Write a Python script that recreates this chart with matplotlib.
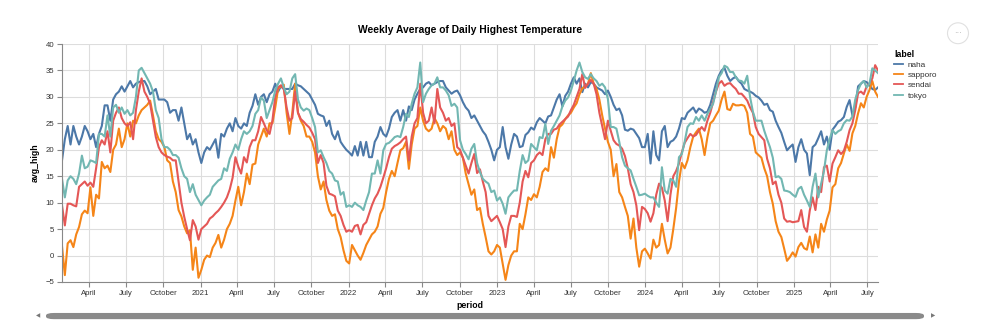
import matplotlib
matplotlib.use("Agg")
import matplotlib.pyplot as plt
import matplotlib.dates as mdates
from matplotlib.patches import FancyBboxPatch, Ellipse
from matplotlib.lines import Line2D
import pandas as pd

# weekly periods, 2020-01-26 .. 2025-07-27
periods = pd.date_range("2020-01-26", periods=288, freq="7D")

labels = ["naha", "sapporo", "sendai", "tokyo"]
colors = ["#4c78a8", "#f58518", "#e45756", "#72b7b2"]

naha = [
    18, 22, 24.5, 21, 24.5, 22.5, 21, 22.5, 24.5, 23.5, 22, 23, 20.5, 23, 24.5, 28.4, 28.4, 25.5, 29.5, 30.5,
    31, 32, 31, 32, 33, 31.8, 32.5, 32.8, 33, 33, 32, 30.5, 31, 31.5, 29.5, 29.5, 29.5, 29, 27, 27.5,
    27.5, 25.5, 28, 25, 22, 23, 21, 22, 19.5,
    17.5, 19.5, 20.5, 20, 21, 22, 18.5, 23, 22.5, 24, 25, 23.5, 26, 24.5, 24, 25, 24.5, 27, 28.3, 30.5,
    28.5, 30, 30.5, 29, 30.5, 31, 32.5, 31, 32, 31.5, 31.5, 31.5, 31.5, 32.5, 32.2, 32, 31.5, 31, 30.5, 29.5,
    28.5, 26.8, 26.5, 26.3, 24.5, 25.5, 23, 22,
    23.5, 21.5, 20.7, 20, 19.5, 18.9, 20.7, 18.9, 21.5, 18.9, 21.5, 18.6, 18.6, 21.5, 22.5, 24.3, 23, 22.5, 24, 26.2,
    27, 27.5, 25.5, 27.5, 25.5, 28.2, 27.5, 29.5, 30.6, 31.5, 31.8, 32.5, 32.8, 32.2, 32.5, 32.8, 33, 33, 31.8, 31.2,
    30.6, 31, 31.2, 30.3, 29, 28, 27.4,
    26, 26.5, 25.5, 24.5, 23.5, 22.8, 21.5, 20, 18, 20, 20.5, 24.3, 20.5, 18.3, 21, 23, 22.5, 20.5, 20.7, 22.8,
    23.3, 24.2, 23.8, 25.2, 26, 25.5, 25, 26.3, 26.5, 28, 29.5, 30.5, 28.2, 30.2, 31, 32.5, 33.7, 32.5, 33.5, 30.9,
    32.5, 31.8, 32.8, 32.5, 31.8, 31.5, 31.2, 30.5,
    31.2, 30, 28.5, 27.5, 27.8, 26.5, 23.8, 23.6, 24, 23.8, 23, 22.2, 20.5, 20.5, 23, 17.4, 23.5, 19, 18, 23.5,
    24.5, 20.5, 21.5, 21.8, 22.5, 24, 26, 25.8, 27, 27.5, 28, 27, 27.8, 27.5, 27, 27.2, 28.5, 30.5, 32.5, 34,
    35, 35.5, 34, 33, 33.5, 33.8, 33,
    32.5, 31.5, 31.2, 31, 30.7, 30.2, 29.9, 29.3, 28.5, 28.7, 27.5, 27.2, 25.5, 24.3, 23.2, 21.5, 19.9, 20.5, 21, 17.7,
    20.5, 22, 20, 19.3, 15.2, 20.5, 21, 22.2, 23.5, 21, 22.5,
    20, 23.8, 24.5, 25.3, 25.6, 26.2, 28.1, 29.4, 26.5, 28, 32, 32.5, 33, 32.8, 32.2, 31.5, 31.3, 31.8,
]

sapporo = [
    1.8, -3.7, 2.3, 2.9, 1.6, 4, 5.4, 7.8, 8.5, 8, 12.9, 7.5, 11.5, 10.8, 17.7, 16.5, 17, 15.8, 20, 21,
    24, 20.5, 22, 25, 22.5, 25.5, 25, 26.5, 27.5, 28, 28.5, 29.3, 26.5, 23.5, 22, 21.5, 20.5, 18, 17.5, 14,
    12, 8.6, 7.4, 5.5, 4.2, 4.8, -2.7, 1.5, -4.2,
    -2.7, -0.8, 0, -0.3, 1.5, 2.4, 3.9, 1.5, 3, 5, 6, 7.5, 10.4, 13, 9.5, 12, 15.5, 13.5, 17.2, 17.4,
    21, 22.5, 24, 22.5, 25, 25, 28, 31.5, 32, 32.3, 27, 23, 27, 32.5, 27, 25.5, 24.5, 22.5, 22.5, 21.5,
    19.5, 15, 12.5, 14, 10.5, 8.5, 7.5, 7.8,
    5, 3.5, 1, -1, -1.5, 2, 1, 0, -0.8, 0.5, 2, 3, 4, 4.5, 5.5, 7.9, 9, 12, 14.5, 16,
    15, 17.5, 19.9, 20.3, 21.5, 16.4, 21, 24, 24.5, 28, 25.5, 24, 23.5, 24, 26, 25, 23.5, 24.5, 24, 22,
    23.5, 20, 19, 19.5, 18.5, 15.5, 13.5,
    11.5, 12.5, 8.6, 9, 6, 3.5, 0.8, 0.2, 0.8, 2, 1.5, -1.5, -4.6, -1.8, 0, 0.8, 0.8, 6, 5, 7.8,
    11, 10.5, 11.6, 11, 13, 15.8, 16.5, 16, 20.5, 18.5, 22, 24.3, 24.8, 25.8, 26.5, 27, 28, 28.8, 30.5, 31.6,
    32, 32.5, 34.5, 32.5, 31.5, 29.5, 26.5, 24,
    21.5, 20, 15, 17.3, 12, 11, 9.2, 7.5, 3.2, 7, 1.5, -2.1, 0.8, 1.3, 0.4, -0.6, 3, 1.5, 2, 6,
    3, 0.4, 1.5, 5, 9, 14, 17.5, 16.5, 18, 20.5, 22.5, 23.3, 24, 22, 19, 22.4, 25, 25.5, 26.5, 27.4,
    29.5, 31, 27.7, 27.5, 28.7, 28.4, 28.4,
    28.5, 28.3, 27, 23, 22.5, 19.5, 19, 18.5, 16.5, 15, 12, 9.8, 6.5, 4.5, 3.5, 1.3, -1, -0.3, 0.6, -0.2,
    1.6, 2.4, 1.4, 1.1, 3.6, 0.6, 4, 1.5, 6, 4.5, 6.8, 8.5, 12.9, 13.5,
    16.5, 17.5, 19.3, 21, 19.8, 23.1, 24.5, 26.9, 28.8, 28, 30, 31.3, 33, 31, 30,
]

sendai = [
    9.5, 5.7, 9.8, 9.8, 9.5, 9.3, 13, 13.5, 14, 13.2, 13.8, 13, 16.5, 20.5, 21.8, 21, 23.5, 19.5, 25.5, 27,
    28, 26, 25, 24.5, 25.2, 22, 27.5, 31, 33.5, 31, 30, 28.7, 25.5, 22.4, 20.5, 19.5, 19, 18.7, 18.5, 18,
    18, 14, 10, 7.3, 5, 2.9, 6.7, 5.5, 3,
    5, 5.5, 6, 7, 7.4, 8, 8.5, 9.2, 10, 11, 12.5, 14.7, 18.6, 16.8, 15.5, 18.6, 17.6, 20.5, 21.8, 21.8,
    23.5, 26.2, 25, 23.7, 23, 25.5, 30, 31.8, 32.2, 31.5, 28, 25.5, 26, 31, 27, 25.8, 25.3, 24.7, 24.2, 23.2,
    22, 17.5, 19, 17.5, 13.2, 11.7, 11.5, 11.2,
    8.5, 7.5, 5.8, 4.5, 4.8, 4.5, 5.6, 5.8, 4, 5.8, 6.3, 7.9, 9.5, 10.8, 11.7, 13, 14.7, 16.5, 18.6, 20.2,
    20.7, 21, 21.4, 22, 22.5, 18, 22.5, 25, 26, 32.5, 27, 25, 25.5, 28, 25, 31.5, 28, 27, 25.5, 26,
    24.5, 25, 20.5, 20, 18.5, 17, 15.5,
    17.5, 19.2, 15.6, 16.3, 14, 12, 7.5, 6.5, 7, 7.5, 6.3, 5, 1.6, 5.5, 7.5, 7.5, 7.3, 10, 14, 16,
    14.8, 17.5, 18, 19, 19.5, 19, 22, 23, 23, 23.8, 24, 24.8, 25.3, 25.8, 26.3, 27.5, 28.5, 30, 31.5, 34.3,
    31.7, 32.5, 33.2, 32.5, 30.5, 27, 24.5, 22,
    25.5, 23.6, 21.8, 21.1, 20.8, 20.2, 18.8, 16.5, 13.5, 12, 9.5, 4.8, 9.2, 8.8, 8, 6.4, 8, 11.5, 13.6, 12.8,
    10.4, 6.5, 11.5, 15, 16, 17.4, 19.5, 21.3, 22.2, 23, 22.5, 22.8, 23.6, 24.3, 23.6, 25.5, 27, 29, 31, 32.5,
    33, 32.1, 32.5, 32.6, 32, 31.5, 30.6,
    30.6, 30, 29.3, 28, 27, 24.3, 23, 22.4, 21.8, 18.3, 16.5, 13.5, 14, 11.5, 10, 7, 6.4, 6.5, 6.3, 6.4,
    6.5, 8.6, 5.4, 4.5, 8.5, 11, 8.6, 13, 12, 16.7, 17, 14, 17.4, 18.6, 19.9, 19.2, 19.8, 21.5, 23.7, 25,
    27.5, 30.7, 31, 30.5, 32, 32.5, 33.5, 36, 35,
]

tokyo = [
    14.5, 11, 14.2, 15, 14.5, 13.5, 15.5, 18.9, 16.5, 16.8, 18, 17.8, 17.5, 23, 23, 22.5, 26.5, 22.5, 28, 28.5,
    27, 28, 26.8, 27.5, 26.5, 27, 30, 35, 35.5, 34.5, 33.5, 32.5, 31, 27.5, 26, 22, 20.5, 20.5, 20, 19,
    19, 18.5, 16.5, 15, 14.5, 12, 13.5, 11.5, 10.5,
    9.5, 10.4, 11, 11.5, 13, 13.6, 14.2, 14.5, 16.5, 16, 18.3, 19.5, 21, 20, 22, 23.5, 23, 23.5, 24.5, 26.8,
    27.5, 29.9, 29.3, 26, 27.5, 29, 31.2, 32.5, 33.5, 31.8, 30.5, 31, 33.5, 34.3, 29.5, 28, 27.4, 27.8, 27.5, 26,
    24.3, 19.5, 19.9, 18.6, 17.5, 16, 15.5, 14.2,
    14, 11.5, 12, 9.2, 9.5, 9.2, 10, 9.5, 9.2, 8.6, 10.4, 12, 15.5, 15.5, 18, 15.5, 19.9, 21.1, 21.3, 21.8,
    22.4, 22.6, 22.4, 24.3, 26.8, 26.2, 28.7, 30.6, 31.8, 36.5, 29, 30.6, 31.5, 32.2, 32.5, 33.7, 31.8, 31.8, 31.2, 30.3,
    28.3, 28.7, 28, 21.8, 20, 19.2, 18.2,
    20.2, 21.1, 17.5, 15.8, 14.5, 14, 13.6, 12, 12.3, 10.4, 11, 9.8, 7.9, 11, 11.7, 12.3, 12.3, 16, 19, 17.5,
    18, 21.1, 20.5, 19.9, 22.4, 22.2, 24.9, 21.1, 23.6, 24.5, 25.5, 26.5, 28.2, 29.3, 29.9, 31.2, 33, 35, 36.5, 34.7,
    33.7, 33.4, 34.3, 33.5, 33, 32.1, 32.5, 31.8,
    29.6, 24.3, 24.3, 24, 21.5, 18.6, 17, 16.5, 16.1, 14.5, 13, 11.4, 11.5, 11.7, 11.3, 11, 11, 10, 9.2, 16.7,
    12.3, 11.7, 14.5, 14.2, 13, 18.6, 19.2, 21.5, 24.3, 25, 24.9, 26.2, 25.5, 26.5, 25.5, 26.8, 27.7, 28.7, 31, 33.7,
    34.5, 35.9, 35.6, 34.7, 34.7, 33.7, 33.1,
    33, 32.5, 34, 30, 27.2, 25.5, 25.5, 25.5, 23.6, 22, 20.5, 18.5, 14.8, 15, 14.5, 12.3, 12.2, 12, 11.5, 11.1,
    12.6, 13, 11.5, 10.4, 9.2, 13, 15.5, 11, 13.6, 16, 19.9,
    22, 23.7, 23, 23.5, 23.8, 25, 25.6, 25.5, 26.3, 29.5, 31.3, 32.5, 33, 31.8, 32.5, 35.4, 35, 34.5,
]

series = [naha, sapporo, sendai, tokyo]

plt.rcParams["font.family"] = ["Liberation Sans", "DejaVu Sans"]

fig = plt.figure(figsize=(10, 3.26), dpi=100)
ax = fig.add_axes([0.062, 0.135, 0.816, 0.73])

for lab, col, vals in zip(labels, colors, series):
    ax.plot(periods, vals, color=col, lw=1.5, label=lab, solid_joinstyle="round")

ax.set_xlim(periods[0], periods[-1])
ax.set_ylim(-5, 40)
ax.set_yticks(range(-5, 41, 5))

ax.xaxis.set_major_locator(mdates.MonthLocator(bymonth=[1, 4, 7, 10]))


def fmt_date(x, pos=None):
    d = mdates.num2date(x)
    return str(d.year) if d.month == 1 else d.strftime("%B")


ax.xaxis.set_major_formatter(plt.FuncFormatter(fmt_date))

ax.grid(True, color="#dddddd", lw=0.8)
ax.set_axisbelow(True)
for s in ["top", "right"]:
    ax.spines[s].set_visible(False)
for s in ["left", "bottom"]:
    ax.spines[s].set_color("#888888")
    ax.spines[s].set_linewidth(0.8)
ax.tick_params(colors="#888888", length=3.5, width=0.8, labelsize=5.6, labelcolor="#333333", pad=2)

ax.set_xlabel("period", fontsize=6.3, fontweight="bold", labelpad=3)
ax.set_ylabel("avg_high", fontsize=6.3, fontweight="bold", labelpad=4)
ax.set_title("Weekly Average of Daily Highest Temperature", fontsize=7.4, fontweight="bold", pad=8)

handles = [Line2D([], [], color=c, lw=1.3) for c in colors]
leg = fig.legend(handles, labels, loc="upper left", bbox_to_anchor=(0.887, 0.87),
                 frameon=False, fontsize=5.9, title="label", handlelength=1.0,
                 handletextpad=0.6, labelspacing=0.3, alignment="left")
leg.get_title().set_fontsize(6.3)
leg.get_title().set_fontweight("bold")
for t in leg.get_texts():
    t.set_color("#333333")

# scrollbar and menu button from the notebook view
fig.patches.append(FancyBboxPatch((0.046, 0.021), 0.878, 0.019, boxstyle="round,pad=0,rounding_size=0.008",
                                  transform=fig.transFigure, facecolor="#8a8a8a", edgecolor="none"))
fig.text(0.038, 0.030, "◀", fontsize=4, color="#777777", ha="center", va="center", family="DejaVu Sans")
fig.text(0.933, 0.030, "▶", fontsize=4, color="#777777", ha="center", va="center", family="DejaVu Sans")
fig.patches.append(Ellipse((0.958, 0.898), 0.021, 0.064, transform=fig.transFigure,
                           facecolor="white", edgecolor="#e0e0e0", lw=0.8))
fig.text(0.958, 0.898, "···", fontsize=6, color="#aaaaaa", ha="center", va="center", family="DejaVu Sans")

fig.savefig("out.png", dpi=100)
